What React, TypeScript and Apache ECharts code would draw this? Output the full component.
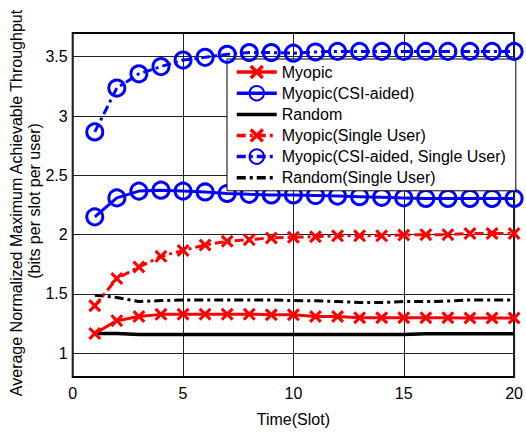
import React, { useEffect, useRef } from "react";
import * as echarts from "echarts";

const slots = [1, 2, 3, 4, 5, 6, 7, 8, 9, 10, 11, 12, 13, 14, 15, 16, 17, 18, 19, 20];
const myopic = [1.167, 1.275, 1.31, 1.328, 1.33, 1.33, 1.33, 1.33, 1.325, 1.325, 1.31, 1.31, 1.3, 1.3, 1.3, 1.3, 1.3, 1.297, 1.297, 1.297];
const myopicCSI = [2.15, 2.31, 2.367, 2.375, 2.367, 2.36, 2.347, 2.34, 2.335, 2.335, 2.33, 2.325, 2.32, 2.315, 2.31, 2.305, 2.305, 2.305, 2.305, 2.305];
const random = [1.167, 1.167, 1.158, 1.158, 1.158, 1.158, 1.158, 1.158, 1.158, 1.158, 1.158, 1.158, 1.158, 1.158, 1.158, 1.165, 1.165, 1.165, 1.165, 1.165];
const myopicSU = [1.4, 1.63, 1.727, 1.817, 1.867, 1.913, 1.944, 1.958, 1.972, 1.978, 1.983, 1.99, 1.99, 1.99, 1.997, 2.0, 2.0, 2.01, 2.01, 2.01];
const myopicCSISU = [2.866, 3.236, 3.356, 3.417, 3.472, 3.495, 3.52, 3.535, 3.535, 3.53, 3.54, 3.545, 3.545, 3.545, 3.545, 3.545, 3.545, 3.545, 3.545, 3.545];
const randomSU = [1.49, 1.47, 1.436, 1.444, 1.45, 1.45, 1.45, 1.45, 1.45, 1.444, 1.442, 1.436, 1.428, 1.428, 1.436, 1.436, 1.44, 1.45, 1.45, 1.45];

const xTicks = [0, 5, 10, 15, 20];
const yTicks = [1, 1.5, 2, 2.5, 3, 3.5];
const names = [
  "Myopic",
  "Myopic(CSI-aided)",
  "Random",
  "Myopic(Single User)",
  "Myopic(CSI-aided, Single User)",
  "Random(Single User)",
];

const FONT = "'Liberation Sans', Arial, sans-serif";
const XMARK =
  "path://M0,1.7 L1.7,0 L5,3.3 L8.3,0 L10,1.7 L6.7,5 L10,8.3 L8.3,10 L5,6.7 L1.7,10 L0,8.3 L3.3,5 Z";

function pairs(v: number[]) {
  return slots.map((s, i) => [s, v[i]]);
}

export default function App() {
  const ref = useRef<HTMLDivElement>(null);
  useEffect(() => {
    if (!ref.current) return;
    const chart = echarts.init(ref.current, null, { renderer: "svg" });
    const red = "#ff0000";
    const blue = "#0000ff";
    const circle = {
      symbol: "circle",
      symbolSize: 16,
      itemStyle: { color: "rgba(255,255,255,0)", borderColor: blue, borderWidth: 3 },
    };
    const cross = {
      symbol: XMARK,
      symbolSize: 13,
      itemStyle: { color: red, borderColor: red, borderWidth: 0 },
    };
    const label = { fontSize: 16, color: "#000", fontFamily: FONT, fontWeight: "normal" };
    chart.setOption({
      animation: false,
      backgroundColor: "#ffffff",
      textStyle: { fontFamily: FONT },
      grid: {
        left: 72.7,
        right: 9.3,
        top: 33,
        bottom: 51,
        show: true,
        borderColor: "#000",
        borderWidth: 2,
        backgroundColor: "transparent",
      },
      xAxis: {
        type: "value",
        min: 0,
        max: 20,
        interval: 5,
        name: "Time(Slot)",
        nameLocation: "middle",
        nameGap: 34,
        nameTextStyle: label,
        axisLine: { show: false },
        axisTick: { show: false, customValues: xTicks },
        axisLabel: { ...label, margin: 8, customValues: xTicks },
        splitLine: { show: true, lineStyle: { color: "#222", width: 1 } },
      },
      yAxis: {
        type: "value",
        min: 0.8,
        max: 3.7,
        axisLine: { show: false },
        axisTick: { show: false, customValues: yTicks },
        axisLabel: { ...label, margin: 5, customValues: yTicks },
        splitLine: { show: true, lineStyle: { color: "#222", width: 1 } },
      },
      legend: {
        orient: "vertical",
        left: 227,
        top: 59,
        padding: [5, 10, 5, 8],
        itemWidth: 40,
        itemHeight: 18,
        itemGap: 5,
        backgroundColor: "#fff",
        borderColor: "#000",
        borderWidth: 1,
        lineStyle: { width: 3.5 },
        textStyle: { ...label, padding: [0, 0, 0, 0] },
        data: names,
      },
      graphic: [
        {
          type: "text",
          x: 16,
          y: 203,
          rotation: Math.PI / 2,
          style: {
            text: "Average Normalized Maximum Achievable Throughput",
            font: `16px ${FONT}`,
            fill: "#000",
            align: "center",
            verticalAlign: "middle",
          },
        },
        {
          type: "text",
          x: 34,
          y: 201,
          rotation: Math.PI / 2,
          style: {
            text: "(bits per slot per user)",
            font: `16px ${FONT}`,
            fill: "#000",
            align: "center",
            verticalAlign: "middle",
          },
        },
      ],
      series: [
        {
          name: names[2],
          type: "line",
          data: pairs(random),
          symbol: "none",
          lineStyle: { color: "#000", width: 3.5 },
          itemStyle: { color: "rgba(0,0,0,0)", borderWidth: 0 },
          z: 2,
        },
        {
          name: names[0],
          type: "line",
          data: pairs(myopic),
          ...cross,
          lineStyle: { color: red, width: 3 },
          z: 3,
        },
        {
          name: names[1],
          type: "line",
          data: pairs(myopicCSI),
          ...circle,
          lineStyle: { color: blue, width: 3 },
          z: 3,
        },
        {
          name: names[5],
          type: "line",
          data: pairs(randomSU),
          symbol: "none",
          lineStyle: { color: "#000", width: 3, type: [9, 4, 3, 4] },
          itemStyle: { color: "rgba(0,0,0,0)", borderWidth: 0 },
          z: 4,
        },
        {
          name: names[3],
          type: "line",
          data: pairs(myopicSU),
          ...cross,
          lineStyle: { color: red, width: 3, type: [9, 4, 3, 4] },
          z: 5,
        },
        {
          name: names[4],
          type: "line",
          data: pairs(myopicCSISU),
          ...circle,
          lineStyle: { color: blue, width: 3, type: [9, 4, 3, 4] },
          z: 5,
        },
      ],
    });
    return () => chart.dispose();
  }, []);
  return <div ref={ref} style={{ width: 526, height: 432, position: "absolute", left: 0, top: 0 }} />;
}
